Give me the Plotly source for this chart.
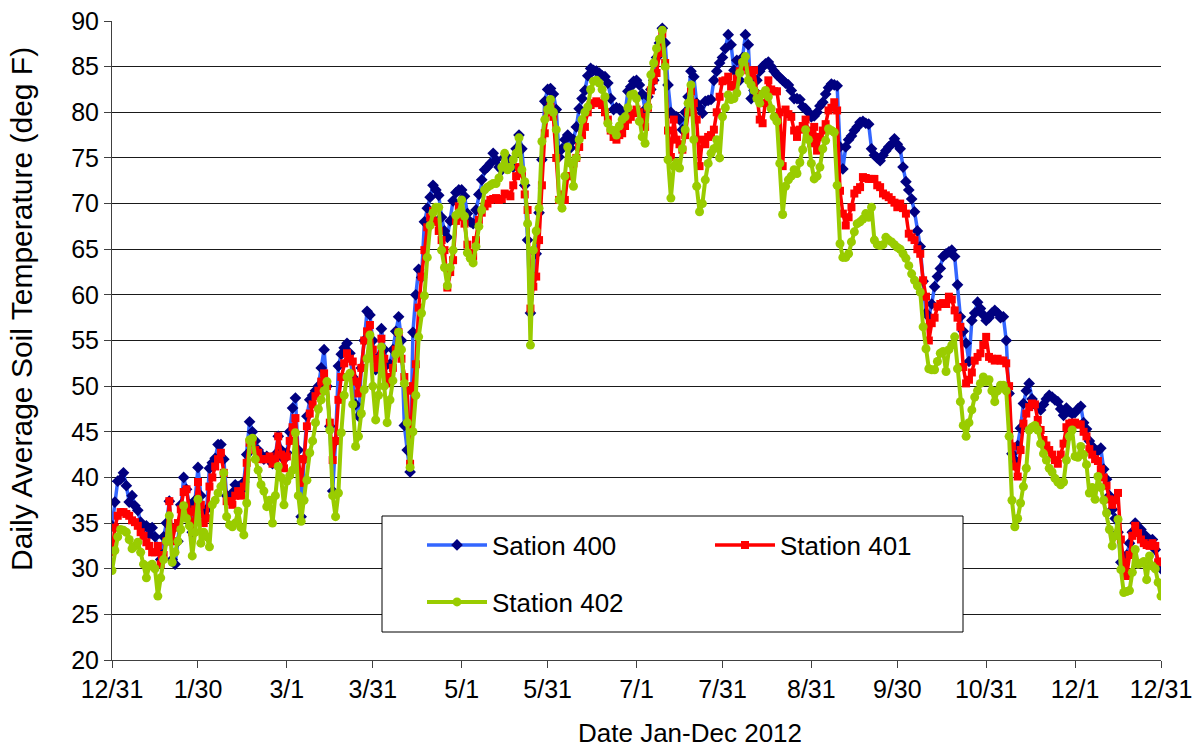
import pandas as pd
import plotly.graph_objects as go

# Daily values, 12/31/2011 .. 12/31/2012 (10 values per row)
station_400 = [
    34.7, 37.3, 39.6, 39.8, 40.5, 39.1, 37.3, 38.0, 36.9, 36.4,
    35.1, 34.5, 34.7, 33.8, 34.5, 33.5, 32.0, 31.0, 33.5, 35.0,
    37.4, 31.0, 30.5, 33.0, 37.0, 40.0, 38.7, 37.0, 34.0, 37.5,
    41.1, 38.0, 35.9, 36.5, 41.0, 41.6, 42.1, 43.6, 43.6, 42.0,
    38.0, 37.5, 38.3, 39.2, 39.0, 38.5, 39.5, 42.5, 46.1, 45.0,
    44.0, 43.0, 42.5, 42.0, 42.3, 42.0, 41.5, 42.5, 44.5, 43.0,
    42.0, 42.7, 45.0, 47.6, 48.7, 43.0, 35.7, 42.0, 46.7, 48.5,
    49.0, 49.5, 50.0, 52.0, 54.0, 50.0, 45.6, 38.5, 44.0, 52.2,
    53.5, 54.2, 54.7, 53.6, 51.0, 48.0, 46.7, 52.0, 55.0, 58.2,
    57.8, 55.0, 51.8, 53.2, 56.3, 54.0, 52.4, 52.4, 54.0, 56.0,
    57.6, 55.0, 45.7, 43.0, 40.6, 55.9, 60.0, 62.8, 61.9, 68.0,
    69.5, 70.7, 72.0, 71.5, 70.9, 68.5, 67.0, 66.3, 68.1, 70.3,
    71.2, 71.5, 71.5, 70.8, 68.9, 68.0, 67.8, 69.3, 71.0, 72.6,
    73.7, 74.0, 74.4, 75.5, 74.8, 74.0, 73.7, 75.1, 75.0, 74.5,
    74.0, 76.0, 77.5, 76.0, 72.0, 66.0, 58.0, 62.0, 64.5, 69.0,
    74.8, 81.2, 82.5, 82.6, 82.0, 80.3, 75.1, 76.0, 77.0, 77.5,
    76.1, 77.0, 78.4, 80.4, 81.5, 82.4, 84.0, 84.8, 84.6, 84.5,
    84.3, 84.0, 83.9, 83.2, 81.5, 80.3, 80.5, 80.4, 80.0, 79.9,
    82.3, 82.8, 83.4, 83.5, 83.0, 82.0, 80.3, 81.7, 82.5, 83.5,
    86.0, 87.6, 89.2, 87.6, 83.0, 80.0, 79.5, 79.5, 79.2, 78.1,
    80.0, 81.7, 84.5, 83.9, 81.0, 80.5, 79.9, 81.2, 81.3, 81.4,
    83.5, 84.5, 85.4, 86.0, 87.0, 88.5, 87.4, 84.6, 85.7, 83.5,
    86.0, 88.5, 87.4, 81.5, 82.4, 83.5, 84.5, 85.0, 85.3, 85.5,
    85.0, 84.5, 84.1, 83.8, 83.5, 83.2, 83.0, 82.4, 81.5, 81.5,
    81.4, 80.6, 80.4, 80.0, 79.5, 79.6, 80.0, 80.7, 81.1, 82.0,
    82.7, 83.1, 83.0, 82.9, 76.2, 73.8, 76.2, 77.0, 77.4, 78.0,
    78.4, 78.9, 79.0, 78.8, 78.7, 76.0, 75.3, 75.0, 74.7, 75.3,
    75.8, 76.2, 76.5, 77.1, 76.5, 76.0, 74.0, 72.4, 71.5, 70.5,
    69.1, 67.0, 65.3, 61.5, 58.0, 57.6, 59.0, 60.9, 62.0, 62.9,
    64.2, 64.5, 64.7, 64.9, 64.2, 61.1, 57.6, 56.0, 54.7, 52.7,
    57.2, 58.0, 59.2, 58.5, 57.8, 57.2, 57.5, 58.0, 58.3, 58.0,
    57.5, 57.6, 55.0, 49.2, 42.6, 41.9, 43.5, 45.4, 48.1, 49.5,
    50.3, 48.6, 48.0, 47.7, 47.4, 48.0, 48.6, 49.0, 48.8, 48.5,
    48.3, 47.5, 46.8, 47.6, 47.2, 47.0, 47.1, 47.5, 47.8, 46.0,
    45.3, 44.0, 43.4, 43.0, 42.9, 43.2, 40.9, 39.8, 38.0, 36.5,
    35.5, 34.0, 30.7, 30.0, 31.5, 32.8, 34.0, 35.0, 34.5, 34.3,
    33.8, 33.2, 33.2, 33.2, 32.1, 30.5, 30.0,
]

station_401 = [
    31.8, 34.5, 35.8, 36.2, 36.2, 36.0, 35.8, 35.3, 35.1, 34.7,
    34.0, 33.6, 32.9, 32.5, 31.8, 31.8, 32.5, 30.5, 31.5, 33.0,
    37.4, 33.0, 34.5, 35.0, 36.5, 38.4, 38.7, 36.2, 34.0, 36.5,
    39.5, 37.0, 35.0, 35.5, 39.0, 40.0, 41.2, 42.0, 42.7, 40.5,
    37.4, 37.4, 37.0, 38.0, 38.5, 38.0, 39.0, 41.6, 43.8, 44.0,
    43.0, 42.7, 42.0, 42.0, 42.0, 42.3, 41.5, 42.0, 44.5, 42.5,
    41.0, 42.3, 44.0, 45.5, 46.5, 42.0, 39.4, 42.0, 45.6, 47.0,
    48.0, 48.9, 49.5, 50.5, 51.4, 50.0, 46.0, 41.9, 44.0, 48.5,
    51.0, 52.5, 53.6, 53.0, 52.7, 50.5, 49.2, 52.0, 55.0, 56.0,
    56.7, 54.0, 52.0, 53.0, 55.2, 53.0, 50.3, 51.0, 52.0, 54.0,
    55.9, 53.0, 51.0, 49.5, 41.5, 50.0, 52.4, 58.6, 62.0, 64.9,
    67.4, 68.5, 69.2, 68.0, 67.0, 66.0, 64.9, 60.8, 62.5, 63.8,
    68.1, 69.7, 68.5, 67.8, 65.5, 64.6, 64.2, 66.0, 68.2, 69.0,
    69.7, 70.0, 70.4, 70.5, 70.6, 70.4, 70.5, 71.1, 71.0, 70.8,
    72.0, 73.0, 74.0, 73.3, 71.0, 69.3, 58.5, 60.9, 62.0, 66.0,
    72.0, 77.7, 80.0, 80.6, 79.5, 75.0, 70.4, 71.0, 70.4, 73.0,
    73.0, 74.4, 75.0, 76.2, 77.5, 78.4, 80.0, 80.8, 81.0, 81.2,
    81.0, 80.8, 80.0, 79.2, 78.0, 77.3, 77.0, 77.5, 77.7, 78.5,
    79.2, 79.5, 79.9, 80.3, 80.0, 79.5, 78.4, 80.5, 82.4, 83.5,
    84.3, 86.5, 88.6, 85.4, 78.0, 75.1, 79.2, 77.0, 76.5, 75.9,
    77.5, 80.0, 82.3, 81.0, 79.2, 74.1, 77.0, 76.5, 77.3, 77.5,
    78.1, 80.0, 81.7, 83.4, 83.5, 83.9, 82.8, 83.0, 83.7, 84.5,
    85.4, 85.0, 84.6, 84.0, 84.6, 82.0, 79.2, 78.8, 81.0, 83.5,
    82.5, 82.3, 82.3, 80.0, 74.1, 80.3, 79.8, 79.5, 78.0, 77.3,
    78.1, 78.5, 79.2, 78.0, 76.6, 78.4, 75.8, 77.3, 78.0, 78.7,
    80.2, 80.5, 81.1, 80.2, 71.4, 68.9, 67.6, 68.5, 69.6, 71.1,
    71.5, 71.8, 72.9, 72.8, 72.7, 72.7, 72.7, 72.0, 71.8, 71.1,
    70.9, 70.7, 70.4, 70.1, 69.6, 70.0, 69.5, 68.9, 66.7, 66.3,
    66.0, 65.0, 64.5, 61.6, 59.8, 55.0, 56.9, 57.5, 58.7, 59.0,
    59.1, 59.0, 59.8, 59.5, 58.3, 57.5, 56.5, 52.1, 50.3, 50.7,
    51.5, 52.8, 53.2, 53.6, 54.5, 55.4, 53.2, 53.0, 52.8, 53.0,
    52.8, 52.8, 52.5, 50.0, 43.4, 41.2, 40.1, 43.0, 45.9, 47.0,
    47.7, 48.1, 48.0, 46.3, 45.2, 44.1, 43.5, 43.0, 42.5, 41.9,
    41.5, 42.5, 43.7, 45.5, 45.9, 46.0, 46.0, 45.8, 45.8, 45.0,
    44.5, 43.1, 42.5, 42.0, 41.8, 40.9, 40.0, 39.1, 37.6, 37.0,
    37.5, 38.3, 33.2, 30.7, 29.2, 31.5, 33.6, 34.7, 33.9, 33.2,
    32.8, 32.6, 32.5, 32.8, 32.5, 30.7, 30.8,
]

station_402 = [
    29.8, 32.0, 33.5, 34.3, 34.2, 34.0, 33.2, 32.2, 32.5, 32.9,
    31.8, 30.5, 29.0, 30.3, 30.5, 30.0, 27.0, 29.0, 31.0, 33.0,
    35.8, 30.7, 31.8, 33.0, 34.3, 36.9, 35.5, 34.7, 31.4, 34.0,
    37.6, 32.8, 34.0, 33.5, 32.4, 37.0, 37.5, 38.3, 39.0, 40.5,
    35.7, 34.8, 34.6, 35.0, 36.3, 34.5, 33.7, 37.2, 44.1, 44.3,
    42.0, 40.8, 39.2, 38.5, 36.8, 37.5, 35.0, 38.0, 41.2, 40.0,
    37.0, 39.6, 40.2, 40.8, 44.9, 38.0, 35.2, 37.5, 39.7, 42.7,
    44.0, 46.0, 47.5, 48.5, 49.5, 50.5, 45.2, 38.0, 35.7, 38.3,
    44.9, 49.0, 51.0, 51.4, 48.0, 43.4, 44.5, 47.0, 49.6, 53.0,
    55.6, 50.0, 46.3, 49.0, 54.3, 50.0, 46.0, 48.5, 50.6, 53.5,
    55.9, 54.0, 50.3, 46.0, 41.1, 45.0, 49.0, 55.4, 58.0, 59.9,
    64.1, 67.6, 69.0, 69.6, 69.6, 64.9, 63.0, 61.0, 63.0, 64.9,
    68.7, 69.0, 70.4, 68.6, 64.6, 64.0, 63.5, 65.3, 67.5, 69.3,
    71.5, 71.8, 72.0, 72.2, 72.2, 72.8, 74.0, 75.5, 73.7, 74.0,
    74.8, 75.5, 77.2, 73.7, 72.4, 67.8, 54.5, 64.9, 67.0, 69.5,
    76.8, 79.2, 80.3, 81.4, 80.0, 78.1, 70.4, 69.5, 73.0, 76.2,
    74.4, 71.9, 75.0, 77.0, 79.2, 80.0, 80.6, 82.5, 83.4, 83.5,
    83.2, 82.5, 81.7, 78.8, 78.1, 78.0, 77.5, 78.5, 79.2, 79.5,
    80.5, 81.9, 82.0, 81.5, 79.0, 77.3, 76.6, 80.6, 84.1, 85.4,
    87.0, 88.0, 89.0, 85.0, 74.8, 70.6, 74.1, 74.5, 73.9, 76.0,
    78.1, 81.0, 83.0, 77.0, 71.9, 69.1, 70.0, 72.6, 74.4, 75.5,
    76.0, 77.0, 75.0, 79.5, 80.5, 81.9, 81.4, 81.5, 82.1, 84.3,
    85.5, 86.1, 83.5, 83.0, 82.4, 81.5, 81.0, 82.0, 82.4, 81.7,
    80.4, 79.5, 79.0, 74.4, 68.8, 71.9, 72.6, 73.0, 73.7, 73.3,
    74.5, 75.9, 78.1, 77.0, 74.4, 72.7, 73.0, 74.0, 76.0, 76.9,
    78.2, 78.0, 77.8, 72.0, 65.6, 64.1, 64.1, 64.5, 65.8, 66.9,
    67.8, 68.0, 68.3, 68.9, 68.5, 69.6, 66.0, 65.5, 65.4, 65.5,
    66.3, 66.0, 65.8, 65.5, 65.2, 65.0, 64.5, 64.0, 63.2, 62.3,
    61.6, 61.0, 60.3, 56.5, 54.1, 51.9, 51.8, 51.8, 52.7, 53.6,
    53.8, 51.6, 54.0, 54.5, 55.4, 51.9, 48.3, 45.7, 44.5, 46.0,
    47.4, 48.8, 49.5, 50.3, 51.0, 50.5, 50.7, 49.5, 48.3, 49.5,
    50.1, 50.1, 49.5, 44.5, 37.5, 34.6, 35.5, 37.2, 39.0, 41.0,
    45.2, 45.5, 45.7, 45.2, 43.7, 42.6, 41.9, 41.0, 40.6, 39.9,
    39.5, 39.2, 39.5, 41.9, 44.5, 45.2, 42.3, 42.2, 43.4, 42.5,
    41.4, 38.3, 38.9, 37.6, 40.1, 38.9, 37.5, 36.1, 34.3, 32.5,
    33.6, 35.4, 29.9, 27.4, 27.5, 27.6, 29.6, 32.1, 30.5, 30.6,
    30.8, 28.8, 31.4, 30.3, 30.0, 28.5, 27.0,
]

tick_dates = ["2011-12-31", "2012-01-30", "2012-03-01", "2012-03-31", "2012-05-01",
              "2012-05-31", "2012-07-01", "2012-07-31", "2012-08-31", "2012-09-30",
              "2012-10-31", "2012-12-01", "2012-12-31"]
tick_labels = ["12/31", "1/30", "3/1", "3/31", "5/1", "5/31", "7/1", "7/31",
               "8/31", "9/30", "10/31", "12/1", "12/31"]
series_names = ["Sation 400", "Station 401", "Station 402"]
x_title = "Date Jan-Dec 2012"
y_title = "Daily Average Soil Temperature (deg F)"

def dates_for(vals):
    return pd.date_range("2011-12-31", periods=len(vals), freq="D")

FONT = "Liberation Sans, Arial, sans-serif"
FS = 25

fig = go.Figure()
fig.add_trace(go.Scatter(
    x=dates_for(station_400), y=station_400, name=series_names[0], mode="lines+markers",
    line=dict(color="#3366FF", width=3.5),
    marker=dict(symbol="diamond", size=9, color="#000080"),
    legend="legend"))
fig.add_trace(go.Scatter(
    x=dates_for(station_401), y=station_401, name=series_names[1], mode="lines+markers",
    line=dict(color="#FF0000", width=3.5),
    marker=dict(symbol="square", size=8, color="#FF0000"),
    legend="legend2"))
fig.add_trace(go.Scatter(
    x=dates_for(station_402), y=station_402, name=series_names[2], mode="lines+markers",
    line=dict(color="#99CC00", width=4),
    marker=dict(symbol="circle", size=9, color="#99CC00"),
    legend="legend3"))

L, R, T, B = 112, 1161, 21, 660
W, H = 1201, 748

def px(x):
    return (x - L) / (R - L)

def py(y):
    return (B - y) / (B - T)

fig.add_shape(type="rect", xref="paper", yref="paper",
              x0=px(382), x1=px(963), y0=py(632), y1=py(516),
              line=dict(color="#000000", width=1), fillcolor="white", layer="above")

fig.add_annotation(text=x_title, xref="paper", yref="paper", x=px(690), y=py(733),
                   xanchor="center", yanchor="middle", showarrow=False,
                   font=dict(family=FONT, size=26, color="#000000"))
fig.add_annotation(text=y_title, xref="paper", yref="paper", x=px(22), y=py(309),
                   xanchor="center", yanchor="middle", showarrow=False, textangle=-90,
                   font=dict(family=FONT, size=30, color="#000000"))

leg_common = dict(xanchor="left", yanchor="middle", itemwidth=60,
                  bgcolor="rgba(0,0,0,0)", borderwidth=0,
                  font=dict(family=FONT, size=26, color="#000000"))
fig.update_layout(
    width=W, height=H,
    showlegend=True,
    margin=dict(l=L, r=W - R, t=T, b=H - B, autoexpand=False),
    paper_bgcolor="white", plot_bgcolor="white",
    font=dict(family=FONT, size=FS, color="#000000"),
    legend=dict(x=px(422), y=py(545), **leg_common),
    legend2=dict(x=px(710), y=py(545), **leg_common),
    legend3=dict(x=px(422), y=py(602), **leg_common),
    xaxis=dict(
        type="date", range=["2011-12-31", "2012-12-31"], automargin=False,
        tickmode="array", tickvals=tick_dates, ticktext=tick_labels,
        showgrid=False, showline=True, linecolor="#404040", linewidth=1,
        ticks="outside", ticklen=7, tickcolor="#404040",
        tickfont=dict(family=FONT, size=FS),
        zeroline=False),
    yaxis=dict(
        range=[20, 90], dtick=5, tick0=20, automargin=False,
        showgrid=True, gridcolor="#1a1a1a", gridwidth=1,
        showline=True, linecolor="#404040", linewidth=1,
        ticks="outside", ticklen=7, tickcolor="#404040",
        tickfont=dict(family=FONT, size=FS),
        zeroline=False),
)

fig.write_html("out.html")
